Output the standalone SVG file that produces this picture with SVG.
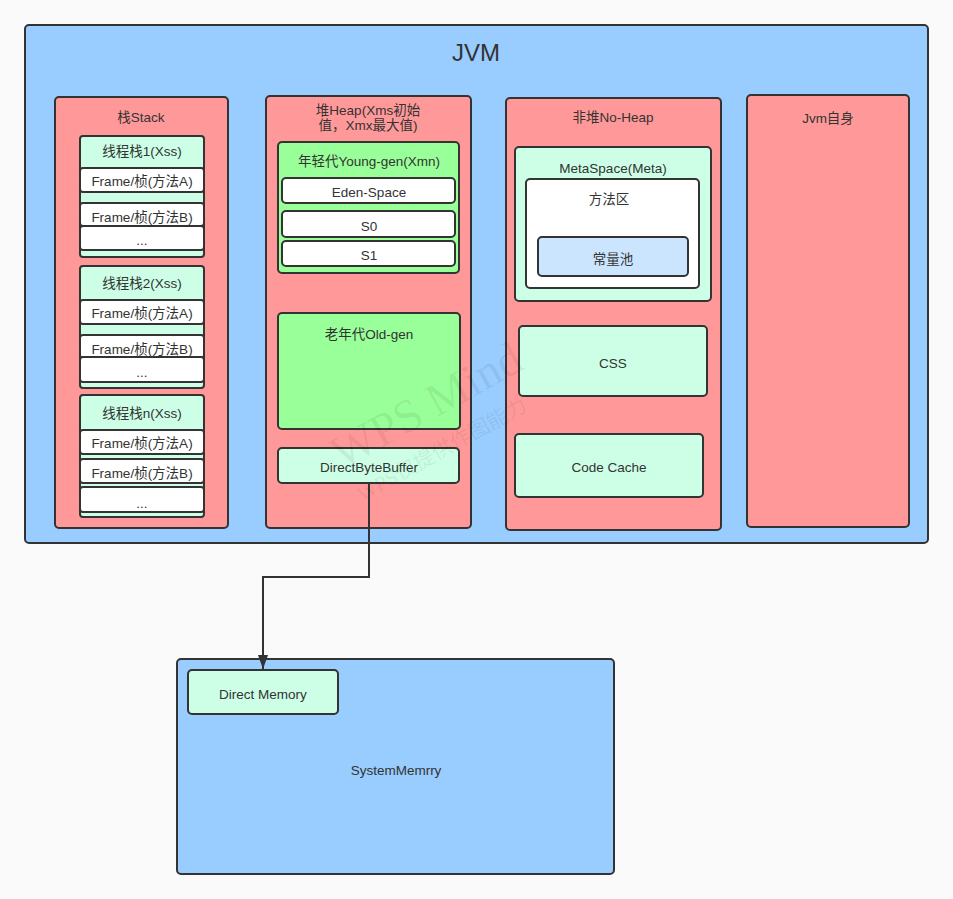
<svg xmlns="http://www.w3.org/2000/svg" width="953" height="899" viewBox="0 0 953 899">
<style>
  .b { stroke:#333; stroke-width:2; }
  .blue { fill:#99ccff; }
  .red { fill:#ff9999; }
  .lg { fill:#ccffe6; }
  .g { fill:#99ff99; }
  .w { fill:#ffffff; }
  .lb { fill:#cce5ff; }
  text { font-family:"Liberation Sans","Noto Sans CJK SC",sans-serif; font-size:13.5px; fill:#333; text-anchor:middle; }
  .t { dominant-baseline:central; }
  .wm { font-family:"Liberation Serif","Noto Sans CJK SC",serif; fill:#000; fill-opacity:0.07; text-anchor:start; }
</style>
<defs>
  <marker id="arr" viewBox="0 0 14 10" refX="14" refY="5" markerWidth="14" markerHeight="10" markerUnits="userSpaceOnUse" orient="auto">
    <path d="M0,0 L14,5 L0,10 z" fill="#333"/>
  </marker>
</defs>
<rect width="953" height="899" fill="#fafafa"/>

<g id="jvm">
  <rect class="b blue" x="25" y="25" width="903" height="518" rx="4"/>
  <text class="t" x="476" y="52" style="font-size:24px">JVM</text>
</g>

<g id="stack">
  <rect class="b red" x="55" y="97" width="173" height="431" rx="4"/>
  <text class="t" x="141" y="117">栈Stack</text>
</g>
<g id="thread1">
  <rect class="b lg" x="80" y="136" width="124" height="121" rx="3"/>
  <text class="t" x="142" y="151">线程栈1(Xss)</text>
  <rect class="b w" x="80" y="168" width="124" height="24" rx="3"/>
  <text class="t" x="142" y="181">Frame/桢(方法A)</text>
  <rect class="b w" x="80" y="203" width="124" height="23" rx="3"/>
  <text class="t" x="142" y="217">Frame/桢(方法B)</text>
  <rect class="b w" x="80" y="226" width="124" height="24" rx="3"/>
  <text class="t" x="142" y="240">...</text>
</g>
<g id="thread2">
  <rect class="b lg" x="80" y="266" width="124" height="122" rx="3"/>
  <text class="t" x="142" y="283">线程栈2(Xss)</text>
  <rect class="b w" x="80" y="300" width="124" height="24" rx="3"/>
  <text class="t" x="142" y="313">Frame/桢(方法A)</text>
  <rect class="b w" x="80" y="335" width="124" height="23" rx="3"/>
  <text class="t" x="142" y="349">Frame/桢(方法B)</text>
  <rect class="b w" x="80" y="357" width="124" height="25" rx="3"/>
  <text class="t" x="142" y="372">...</text>
</g>
<g id="threadn">
  <rect class="b lg" x="80" y="395" width="124" height="122" rx="3"/>
  <text class="t" x="142" y="413">线程栈n(Xss)</text>
  <rect class="b w" x="80" y="430" width="124" height="24" rx="3"/>
  <text class="t" x="142" y="443">Frame/桢(方法A)</text>
  <rect class="b w" x="80" y="459" width="124" height="24" rx="3"/>
  <text class="t" x="142" y="473">Frame/桢(方法B)</text>
  <rect class="b w" x="80" y="487" width="124" height="25" rx="3"/>
  <text class="t" x="142" y="503">...</text>
</g>

<g id="heap">
  <rect class="b red" x="266" y="96" width="205" height="432" rx="4"/>
  <text class="t" x="368" y="110">堆Heap(Xms初始</text>
  <text class="t" x="368" y="125">值，Xmx最大值)</text>
</g>
<g id="young">
  <rect class="b g" x="278" y="142" width="181" height="131" rx="4"/>
  <text class="t" x="369" y="161">年轻代Young-gen(Xmn)</text>
  <rect class="b w" x="282" y="178" width="173" height="25" rx="4"/>
  <text class="t" x="369" y="192">Eden-Space</text>
  <rect class="b w" x="282" y="211" width="173" height="26" rx="4"/>
  <text class="t" x="369" y="226">S0</text>
  <rect class="b w" x="282" y="241" width="173" height="25" rx="4"/>
  <text class="t" x="369" y="255">S1</text>
</g>
<g id="old">
  <rect class="b g" x="278" y="313" width="182" height="116" rx="4"/>
  <text class="t" x="369" y="334">老年代Old-gen</text>
</g>
<g id="dbb">
  <rect class="b lg" x="278" y="448" width="181" height="35" rx="4"/>
  <text class="t" x="369" y="467">DirectByteBuffer</text>
</g>

<g id="nonheap">
  <rect class="b red" x="506" y="98" width="215" height="432" rx="4"/>
  <text class="t" x="613" y="117">非堆No-Heap</text>
</g>
<g id="metaspace">
  <rect class="b lg" x="515" y="147" width="196" height="154" rx="4"/>
  <text class="t" x="613" y="168">MetaSpace(Meta)</text>
  <rect class="b w" x="526" y="179" width="173" height="109" rx="4"/>
  <text class="t" x="609" y="199">方法区</text>
  <rect class="b lb" x="538" y="237" width="150" height="39" rx="4"/>
  <text class="t" x="613" y="259">常量池</text>
</g>
<g id="css">
  <rect class="b lg" x="519" y="326" width="188" height="70" rx="4"/>
  <text class="t" x="613" y="363">CSS</text>
</g>
<g id="codecache">
  <rect class="b lg" x="515" y="434" width="188" height="63" rx="4"/>
  <text class="t" x="609" y="467">Code Cache</text>
</g>

<g id="jvmself">
  <rect class="b red" x="747" y="95" width="162" height="432" rx="4"/>
  <text class="t" x="828" y="118">Jvm自身</text>
</g>

<g id="sysmem">
  <rect class="b blue" x="177" y="659" width="437" height="215" rx="4"/>
  <text class="t" x="396" y="770">SystemMemrry</text>
</g>
<g id="directmem">
  <rect class="b lg" x="188" y="670" width="150" height="44" rx="4"/>
  <text class="t" x="263" y="694">Direct Memory</text>
</g>

<g id="connectors">
  <path d="M369,483 L369,577 L263,577 L263,669" fill="none" stroke="#333" stroke-width="2" marker-end="url(#arr)"/>
</g>

<g id="watermark">
  <text class="wm" x="0" y="0" style="font-size:47px" transform="translate(342,470) rotate(-29)">WPS Mind</text>
  <text class="wm" x="0" y="0" style="font-size:21px" transform="translate(362,502) rotate(-29)">WPS仅提供作图能力</text>
</g>
</svg>
